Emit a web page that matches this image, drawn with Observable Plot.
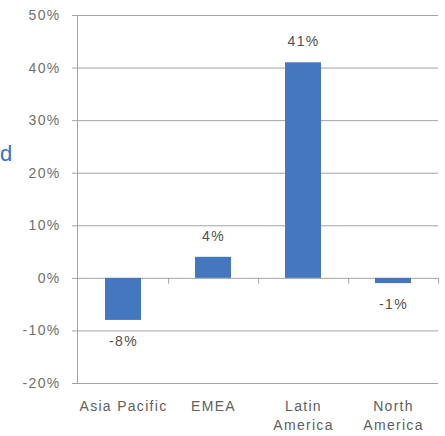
<!DOCTYPE html>
<html>
<head>
<meta charset="utf-8">
<script src="https://cdn.jsdelivr.net/npm/d3@7"></script>
<script src="https://cdn.jsdelivr.net/npm/@observablehq/plot@0.6"></script>
<style>
  html, body { margin: 0; padding: 0; background: #fff; }
  #wrap { position: relative; width: 445px; height: 436px; overflow: hidden; }
  #side { position: absolute; left: 0; top: 141px; font: 22px "Liberation Sans", Arial, sans-serif; color: #3a6fc6; }
  #chart { position: absolute; left: 0; top: 0; }
</style>
</head>
<body>
<div id="wrap">
  <div id="chart"></div>
  <div id="side">d</div>
</div>
<script>
// Regional growth, year over year
const regions = ["Asia Pacific", "EMEA", "Latin\nAmerica", "North\nAmerica"];
const growth = [-0.08, 0.04, 0.41, -0.01];
const yTicks = [-0.2, -0.1, 0, 0.1, 0.2, 0.3, 0.4, 0.5];

const data = regions.map((region, i) => ({region, value: growth[i]}));
const pct = d => `${Math.round(d * 100)}%`;

const width = 445, height = 436;
const margin = {top: 15, right: 7, bottom: 53, left: 77};
const step = (width - margin.left - margin.right) / regions.length;
const grey = "#a3a3a3";

const chart = Plot.plot({
  width, height,
  marginTop: margin.top, marginRight: margin.right,
  marginBottom: margin.bottom, marginLeft: margin.left,
  style: {fontFamily: "'Liberation Sans', Arial, sans-serif", fontSize: "14px", letterSpacing: "1.3px", background: "#fff"},
  x: {domain: regions, paddingInner: 0.6, paddingOuter: 0.3, axis: null},
  y: {domain: [-0.2, 0.5], axis: null},
  marks: [
    Plot.gridY(yTicks, {stroke: grey, strokeOpacity: 1}),
    Plot.axisY(yTicks, {tickSize: 5, tickPadding: 12, tickFormat: pct, stroke: grey, fill: "#707070", label: null}),
    Plot.frame({anchor: "left", stroke: grey}),
    Plot.barY(data, {x: "region", y: "value", fill: "#4477bf"}),
    // category separators hanging below the zero line
    Plot.ruleX(regions, {x: d => d, y1: 0, y2: -0.011, dx: step / 2, stroke: grey}),
    Plot.text(data.filter(d => d.value >= 0), {x: "region", y: "value", text: d => pct(d.value), dy: -21, fill: "#505050"}),
    Plot.text(data.filter(d => d.value < 0), {x: "region", y: "value", text: d => pct(d.value), dy: 21, fill: "#505050"}),
    Plot.axisX({tickSize: 0, tickPadding: 15, lineHeight: 1.3, fill: "#606060", label: null})
  ]
});
document.getElementById("chart").appendChild(chart);
</script>
</body>
</html>
